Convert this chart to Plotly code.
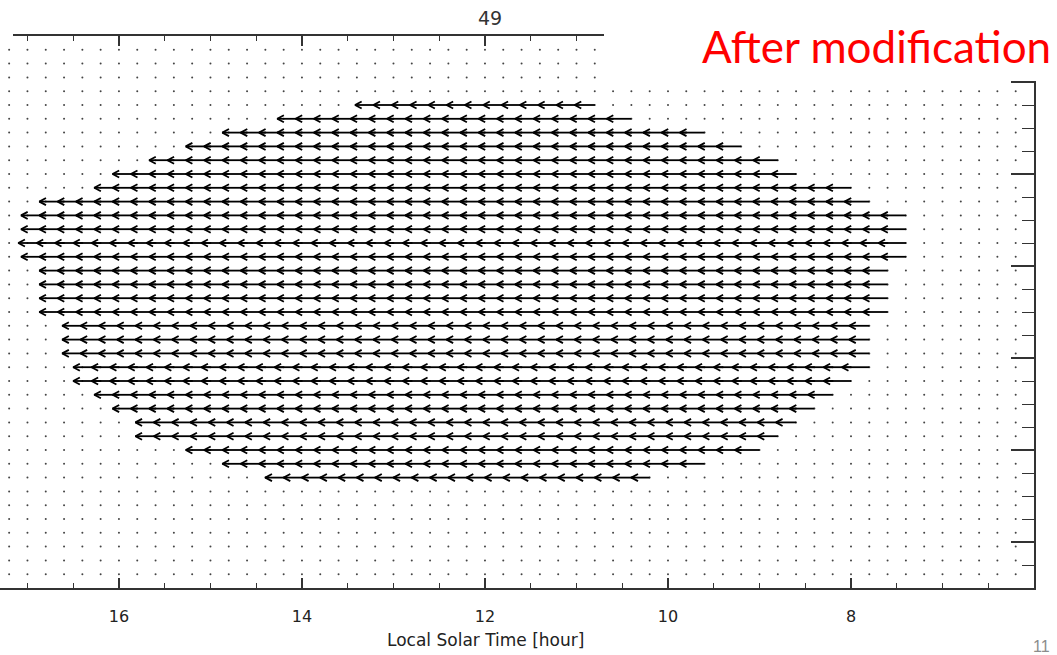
import math
import numpy as np
import plotly.graph_objects as go

# ---------------- data ----------------
# latitude of each wind-vector row (top to bottom)
row_lat = [17.5, 16.0, 14.5, 13.0, 11.5, 10.0, 8.5, 7.0, 5.5, 4.0, 2.5, 1.0, -0.5, -2.0,
           -3.5, -5.0, -6.5, -8.0, -9.5, -11.0, -12.5, -14.0, -15.5, -17.0, -18.5, -20.0,
           -21.5, -23.0]
# westmost (largest LST) vector tail in each row [hour]
row_west = [13.2, 14.0, 14.6, 15.0, 15.4, 15.8, 16.0, 16.6, 16.8, 16.8, 16.8, 16.8, 16.6, 16.6,
            16.6, 16.6, 16.4, 16.4, 16.4, 16.2, 16.2, 16.0, 15.8, 15.6, 15.6, 15.0, 14.6, 14.2]
# eastmost (smallest LST) vector tail in each row [hour]
row_east = [10.8, 10.4, 9.6, 9.2, 8.8, 8.6, 8.0, 7.8, 7.4, 7.4, 7.4, 7.4, 7.6, 7.6,
            7.6, 7.6, 7.8, 7.8, 7.8, 7.8, 8.0, 8.2, 8.4, 8.6, 8.8, 9.0, 9.6, 10.2]
# typical westward vector length in each row [hour of LST]
row_len = [0.22, 0.27, 0.27, 0.27, 0.27, 0.27, 0.27, 0.27, 0.27, 0.27, 0.30, 0.27, 0.27, 0.27,
           0.27, 0.27, 0.22, 0.22, 0.22, 0.30, 0.30, 0.27, 0.27, 0.22, 0.22, 0.27, 0.27, 0.20]

x_tickvals = [16, 14, 12, 10, 8]
x_ticktext = ["16", "14", "12", "10", "8"]
title_text = "49"
xlabel_text = "Local Solar Time [hour]"
note_text = "After modification"
page_text = "11"

# ---------------- layout geometry ----------------
W, H = 1057, 655
ML, MR, MT, MB = 0, 23, 36, 67
PW, PH = W - ML - MR, H - MT - MB
X_RANGE = [17.3, 6.0]
Y_RANGE = [-35.0, 25.0]
GRID_DX, GRID_DY = 0.2, 1.5
SX = PW / abs(X_RANGE[0] - X_RANGE[1])   # px per hour
SY = PH / abs(Y_RANGE[1] - Y_RANGE[0])   # px per degree
BARB_PX = 7.5
BARB_ANG = math.radians(28)

# ---------------- build arrows ----------------
ax, ay = [], []
for lat, w, e, L in zip(row_lat, row_west, row_east, row_len):
    n = int(round((w - e) / GRID_DX))
    for k in range(n + 1):
        x0 = e + k * GRID_DX
        x1 = x0 + L
        y0 = y1 = lat
        # screen-space direction (x right, y up); LST axis is reversed
        px, py = -(x1 - x0) * SX, (y1 - y0) * SY
        mag = math.hypot(px, py)
        ux, uy = px / mag, py / mag
        ax += [x0, x1, None]
        ay += [y0, y1, None]
        pts = []
        for a in (BARB_ANG, -BARB_ANG):
            bx = ux * math.cos(a) - uy * math.sin(a)
            by = ux * math.sin(a) + uy * math.cos(a)
            pts.append((x1 + BARB_PX * bx / SX, y1 - BARB_PX * by / SY))
        ax += [pts[0][0], x1, pts[1][0], None]
        ay += [pts[0][1], y1, pts[1][1], None]

# background dot grid
gx = np.round(np.arange(6.2, 17.21, GRID_DX), 2)
gy = np.round(np.arange(Y_RANGE[0] + GRID_DY, Y_RANGE[1] - 0.01, GRID_DY), 2)
GX, GY = np.meshgrid(gx, gy)

fig = go.Figure()
fig.add_trace(go.Scatter(x=GX.ravel(), y=GY.ravel(), mode="markers",
                         marker=dict(size=2, color="#444444"), hoverinfo="skip",
                         showlegend=False))
fig.add_trace(go.Scatter(x=ax, y=ay, mode="lines",
                         line=dict(color="black", width=1.8), hoverinfo="skip",
                         showlegend=False))

axis_col = "#333333"
txt_font = "DejaVu Sans"
fig.update_layout(
    width=W, height=H,
    margin=dict(l=ML, r=MR, t=MT, b=MB),
    paper_bgcolor="white", plot_bgcolor="white",
    showlegend=False,
    xaxis=dict(range=X_RANGE, tickvals=x_tickvals, ticktext=x_ticktext,
               ticks="inside", ticklen=10, tickwidth=1.5, tickcolor=axis_col,
               showline=True, linecolor=axis_col, linewidth=1.5, mirror="ticks",
               showgrid=False, zeroline=False, ticklabelstandoff=13,
               tickfont=dict(family=txt_font, size=16, color="#222222"),
               minor=dict(ticks="inside", ticklen=5, dtick=0.5, tick0=0,
                          tickcolor=axis_col, tickwidth=1.3, showgrid=False)),
    yaxis=dict(range=Y_RANGE, side="right", tick0=0, dtick=10,
               ticks="inside", ticklen=23, tickwidth=1.5, tickcolor=axis_col,
               showline=True, linecolor=axis_col, linewidth=1.5, mirror=False,
               showgrid=False, zeroline=False, showticklabels=False,
               minor=dict(ticks="inside", ticklen=12, dtick=2.5, tick0=0,
                          tickcolor=axis_col, tickwidth=1.3, showgrid=False)),
    shapes=[
        dict(type="rect", xref="paper", yref="paper", x0=604 / PW, x1=1.05,
             y0=(MT + PH - 81) / PH, y1=1.2, fillcolor="white",
             line=dict(width=0), layer="above"),
        dict(type="rect", xref="paper", yref="paper", x0=-0.02, x1=13 / PW,
             y0=0.99, y1=1.02, fillcolor="white", line=dict(width=0), layer="above"),
    ],
    annotations=[
        dict(text=title_text, xref="paper", yref="paper", x=490 / PW,
             y=(MT + PH - 18) / PH, showarrow=False, xanchor="center", yanchor="middle",
             font=dict(family=txt_font, size=19, color="#333333")),
        dict(text=xlabel_text, xref="paper", yref="paper", x=485 / PW,
             y=(MT + PH - 640) / PH, showarrow=False, xanchor="center", yanchor="middle",
             font=dict(family=txt_font, size=17, color="#222222")),
        dict(text=note_text, xref="paper", yref="paper", x=876 / PW,
             y=(MT + PH - 46) / PH, showarrow=False, xanchor="center", yanchor="middle",
             font=dict(family="Lato", size=44, color="#ff0000")),
        dict(text=page_text, xref="paper", yref="paper", x=1041 / PW,
             y=(MT + PH - 646) / PH, showarrow=False, xanchor="center", yanchor="middle",
             font=dict(family="Liberation Sans", size=16, color="#8c8c8c")),
    ],
)

fig.write_html("out.html")
